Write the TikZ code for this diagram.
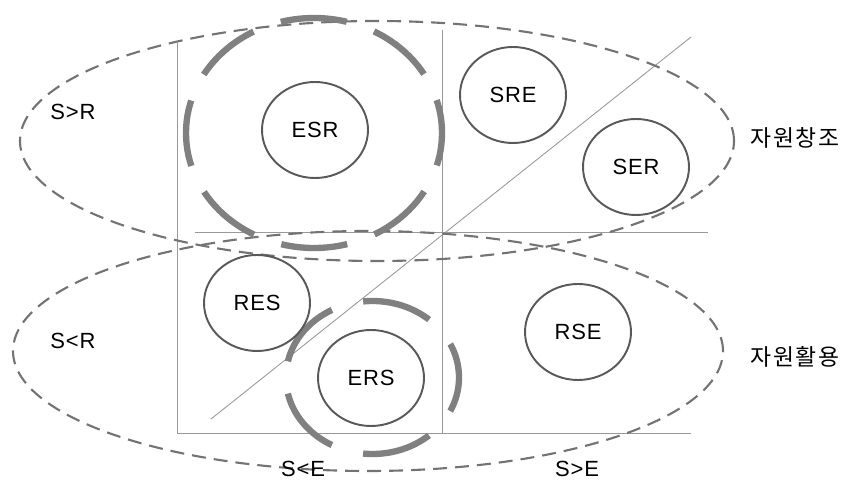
\documentclass[tikz,border=0pt]{standalone}
\usepackage{fontspec}
\setmainfont[LetterSpace=4]{Liberation Sans}
\newfontfamily\krfont[LetterSpace=8]{Noto Sans CJK KR}
\usetikzlibrary{shapes.geometric}

\tikzset{
	axisline/.style={draw=black!40, line width=0.5pt},
	groupring/.style={draw=black!55, line width=1.2pt, dash pattern=on 0.28cm off 0.16cm},
	focusring/.style={draw=black!50, line width=3.6pt},
	typebox/.style={ellipse, draw=black!65, line width=1.1pt, minimum width=2.12cm, minimum height=1.92cm, inner sep=0pt, font=\fontsize{12.5}{15}\selectfont},
	sidelabel/.style={font=\fontsize{12.5}{15}\selectfont},
	krlabel/.style={font=\krfont\fontsize{13}{15}\selectfont}
}

\begin{document}
\begin{tikzpicture}
		\useasboundingbox (0,0) rectangle (17.06,9.7);
		% quadrant lines
		\draw[axisline] (3.54,8.84) -- (3.54,1.04) -- (13.82,1.04);
		\draw[axisline] (8.84,9.1) -- (8.84,1.04);
		\draw[axisline] (3.9,5.06) -- (14.16,5.06);
		\draw[axisline] (4.22,1.32) -- (13.82,8.96);
		% group rings
		\draw[groupring] (7.54,6.88) ellipse (7.14cm and 2.4cm);
		\draw[groupring] (7.36,2.68) ellipse (7.1cm and 2.4cm);
		\draw[focusring, dash pattern=on 1.33cm off 0.58cm, dash phase=0.66cm] (6.28,7.04) ellipse (2.56cm and 2.3cm);
		\draw[focusring, dash pattern=on 1.4cm off 0.65cm, dash phase=0.7cm] (7.45,2.15) ellipse (1.73cm and 1.53cm);
		% types
		\node[typebox] (esr) at (6.30,7.10) {ESR};
		\node[typebox] (sre) at (10.26,7.80) {SRE};
		\node[typebox] (ser) at (12.72,6.36) {SER};
		\node[typebox] (res) at (5.14,3.64) {RES};
		\node[typebox] (ers) at (7.42,2.14) {ERS};
		\node[typebox] (rse) at (11.56,3.06) {RSE};
		% labels
		\draw (1.46,7.46) node[sidelabel] (sgtr) {S>R};
		\draw (1.46,2.88) node[sidelabel] (sltr) {S<R};
		\draw (6.06,0.32) node[sidelabel] (slte) {S<E};
		\draw (11.54,0.32) node[sidelabel] (sgte) {S>E};
		\draw (15.9,6.94) node[krlabel] (create) {자원창조};
		\draw (15.9,2.56) node[krlabel] (utilize) {자원활용};
		\end{tikzpicture}
\end{document}
